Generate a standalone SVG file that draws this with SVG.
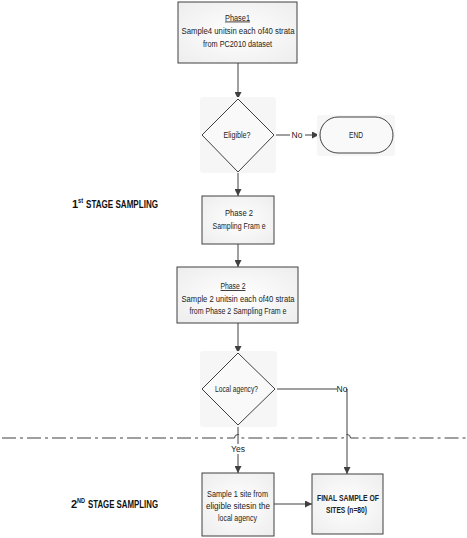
<svg xmlns="http://www.w3.org/2000/svg" width="467" height="538" viewBox="0 0 467 538">
<defs>
<radialGradient id="boxfill" cx="50%" cy="50%" r="70%">
<stop offset="0" stop-color="#ffffff"/>
<stop offset="1" stop-color="#ededed"/>
</radialGradient>
<marker id="arr" viewBox="0 0 10 10" refX="10" refY="5" markerWidth="7" markerHeight="7" markerUnits="userSpaceOnUse" orient="auto">
<path d="M0,0 L10,5 L0,10 Z" fill="#404040"/>
</marker>
</defs>
<style>
.box{fill:url(#boxfill);stroke:#404040;stroke-width:1}
.halo{fill:#f6f6f6}
.dia{fill:#f9f9f9;stroke:#404040;stroke-width:1}
.t{font-family:"Liberation Sans",Arial,sans-serif;font-size:8.5px;fill:#222;text-anchor:middle}
.b{font-weight:bold}
.u{text-decoration:underline}
.lbl{font-family:"Liberation Sans",Arial,sans-serif;font-size:11px;font-weight:bold;fill:#111}
.sup{font-family:"Liberation Sans",Arial,sans-serif;font-size:6.5px;font-weight:bold;fill:#111}
.c{fill:none;stroke:#404040;stroke-width:1}
.dash{fill:none;stroke:#404040;stroke-width:1;stroke-dasharray:14 4 3 4}
</style>

<g id="connectors">
<path class="c" d="M238,63 V99" marker-end="url(#arr)"/>
<path class="c" d="M274,135 H319" marker-end="url(#arr)"/>
<path class="c" d="M238,172 V196" marker-end="url(#arr)"/>
<path class="c" d="M238,244 V267" marker-end="url(#arr)"/>
<path class="c" d="M238,323 V353" marker-end="url(#arr)"/>
<path class="c" d="M238,425 V473" marker-end="url(#arr)"/>
<path class="c" d="M275,389 H347 V474" marker-end="url(#arr)"/>
<path class="c" d="M274,504 H312" marker-end="url(#arr)"/>
<rect x="290" y="130" width="15" height="10" fill="#fff"/>
<text class="t" x="297" y="138">No</text>
<rect x="337" y="384" width="9" height="10" fill="#fff"/>
<text class="t" x="342" y="392">No</text>
<rect x="231" y="444" width="14" height="10" fill="#fff"/>
<text class="t" x="238" y="452">Yes</text>
</g>

<path class="dash" d="M2,438 H234.5 a3.5,3.5 0 0 1 7,0 H343.5 a3.5,3.5 0 0 1 7,0 H466"/>

<g id="phase1">
<rect class="box" x="178" y="2" width="119" height="61"/>
<text class="t u" x="237.5" y="20.5" textLength="25" lengthAdjust="spacingAndGlyphs">Phase1</text>
<text class="t" x="238" y="34" textLength="113" lengthAdjust="spacingAndGlyphs">Sample4 unitsin each of40 strata</text>
<text class="t" x="237.5" y="47" textLength="69" lengthAdjust="spacingAndGlyphs">from PC2010 dataset</text>
</g>

<g id="eligible">
<rect class="halo" x="200" y="97" width="76" height="76" rx="3"/>
<path class="dia" d="M238,99 L274,135 L238,172 L202,135 Z"/>
<text class="t" x="237" y="138" textLength="27" lengthAdjust="spacingAndGlyphs">Eligible?</text>
</g>

<g id="end">
<rect class="halo" x="317" y="115" width="78" height="41" rx="3"/>
<rect x="320" y="117" width="73" height="36" rx="18" fill="#f9f9f9" stroke="#404040"/>
<text class="t" x="356" y="138" textLength="14" lengthAdjust="spacingAndGlyphs">END</text>
</g>

<g id="stage1">
<text class="lbl" x="72" y="208">1</text>
<text class="sup" x="78" y="203" textLength="5" lengthAdjust="spacingAndGlyphs">st</text>
<text class="lbl" x="86" y="208" textLength="72" lengthAdjust="spacingAndGlyphs">STAGE SAMPLING</text>
</g>

<g id="phase2frame">
<rect class="box" x="202" y="196" width="72" height="48"/>
<text class="t" x="239" y="216" textLength="28" lengthAdjust="spacingAndGlyphs">Phase 2</text>
<text class="t" x="239" y="229" textLength="53" lengthAdjust="spacingAndGlyphs">Sampling Fram e</text>
</g>

<g id="phase2sample">
<rect class="box" x="177" y="267" width="121" height="56"/>
<text class="t u" x="233" y="289" textLength="25" lengthAdjust="spacingAndGlyphs">Phase 2</text>
<text class="t" x="238" y="302" textLength="113" lengthAdjust="spacingAndGlyphs">Sample 2 unitsin each of40  strata</text>
<text class="t" x="238" y="314" textLength="97" lengthAdjust="spacingAndGlyphs">from Phase 2 Sampling Fram e</text>
</g>

<g id="localagency">
<rect class="halo" x="200" y="351" width="77" height="76" rx="3"/>
<path class="dia" d="M238,353 L275,389 L238,425 L202,389 Z"/>
<text class="t" x="236.5" y="392" textLength="43" lengthAdjust="spacingAndGlyphs">Local agency?</text>
</g>

<g id="stage2">
<text class="lbl" x="71" y="508">2</text>
<text class="sup" x="77" y="503" textLength="8" lengthAdjust="spacingAndGlyphs">ND</text>
<text class="lbl" x="88" y="508" textLength="70" lengthAdjust="spacingAndGlyphs">STAGE SAMPLING</text>
</g>

<g id="sample1site">
<rect class="box" x="202" y="473" width="72" height="63"/>
<text class="t" x="237.5" y="497" textLength="61" lengthAdjust="spacingAndGlyphs">Sample 1 site from</text>
<text class="t" x="238" y="509" textLength="64" lengthAdjust="spacingAndGlyphs">eligible sitesin the</text>
<text class="t" x="237.5" y="521" textLength="39" lengthAdjust="spacingAndGlyphs">local agency</text>
</g>

<g id="final">
<rect class="box" x="312" y="474" width="71" height="60"/>
<text class="t b" x="348" y="501" textLength="62" lengthAdjust="spacingAndGlyphs">FINAL SAMPLE OF</text>
<text class="t b" x="346.5" y="513" textLength="41" lengthAdjust="spacingAndGlyphs">SITES (n=80)</text>
</g>
</svg>
